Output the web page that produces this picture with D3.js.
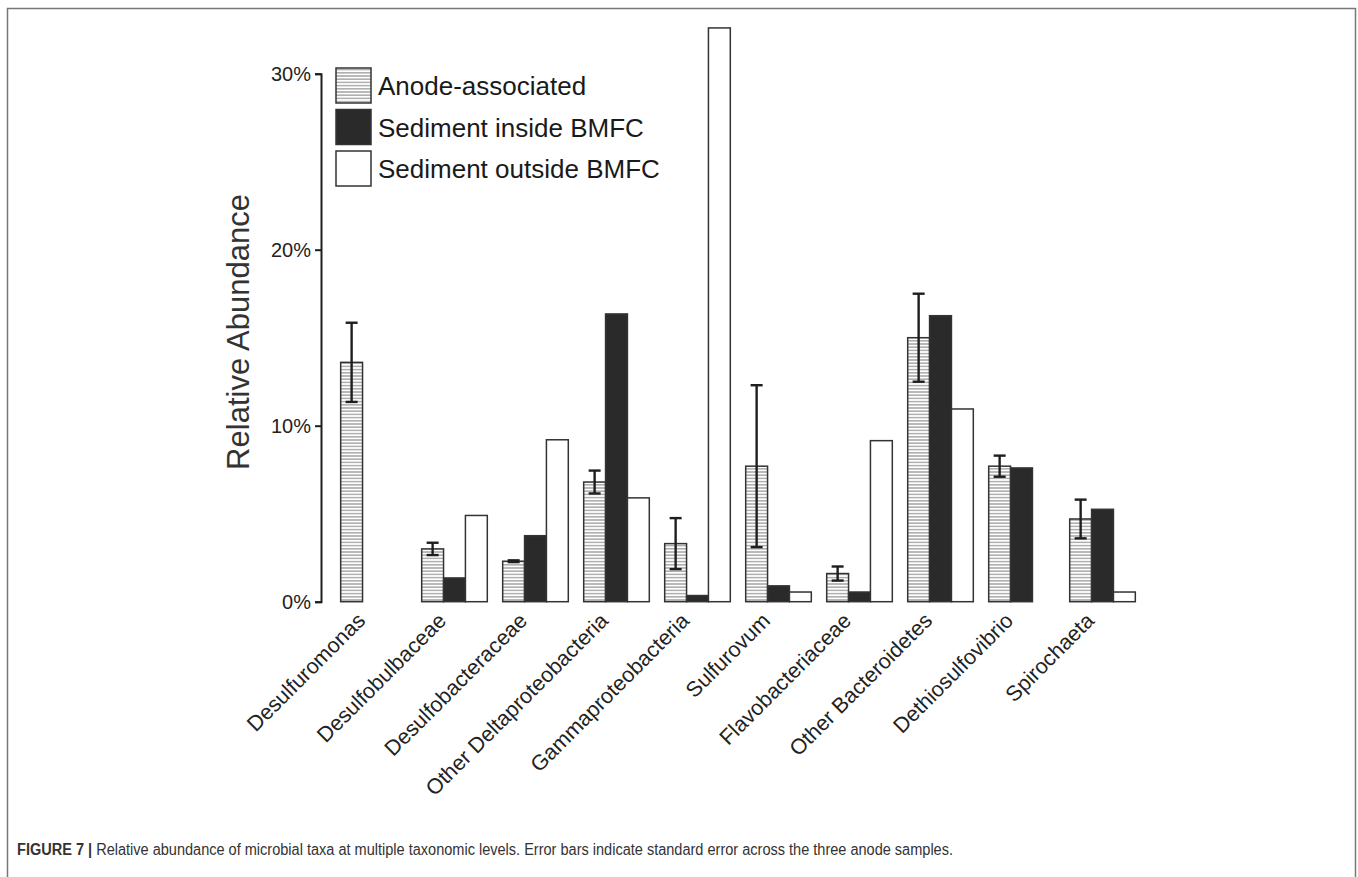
<!DOCTYPE html>
<html lang="en">
<head>
  <meta charset="UTF-8">
  <title>Relative abundance of microbial taxa</title>
  <script src="https://d3js.org/d3.v7.min.js"></script>
</head>
<body style="margin: 0; padding: 0; overflow: hidden; background: #fff;">
  <svg id="chart"></svg>

  <script>
    // data (percent)
    const categories = ["Desulfuromonas", "Desulfobulbaceae", "Desulfobacteraceae", "Other Deltaproteobacteria",
      "Gammaproteobacteria", "Sulfurovum", "Flavobacteriaceae", "Other Bacteroidetes", "Dethiosulfovibrio", "Spirochaeta"];
    const seriesNames = ["Anode-associated", "Sediment inside BMFC", "Sediment outside BMFC"];
    const anode = [13.6, 3.0, 2.3, 6.8, 3.3, 7.7, 1.6, 15.0, 7.7, 4.7];
    const anodeErr = [2.25, 0.35, 0.05, 0.65, 1.45, 4.6, 0.4, 2.5, 0.6, 1.1];
    const inside = [0, 1.35, 3.75, 16.35, 0.35, 0.9, 0.55, 16.25, 7.6, 5.25];
    const outside = [0, 4.9, 9.2, 5.9, 32.6, 0.55, 9.15, 10.95, 0, 0.55];
    const yTicks = [0, 10, 20, 30];

    const W = 1358, H = 877;
    const svg = d3.select("#chart").attr("width", W).attr("height", H);
    const font = "'Liberation Sans', Arial, Helvetica, sans-serif";

    // hatch pattern for anode bars
    const defs = svg.append("defs");
    const pat = defs.append("pattern")
      .attr("id", "hatch")
      .attr("patternUnits", "userSpaceOnUse")
      .attr("width", 6).attr("height", 3.2);
    pat.append("rect").attr("width", 6).attr("height", 3.2).attr("fill", "#fff");
    pat.append("line")
      .attr("x1", 0).attr("x2", 6).attr("y1", 1.6).attr("y2", 1.6)
      .attr("stroke", "#8a8a8a").attr("stroke-width", 1.1);

    const fills = ["url(#hatch)", "#2a2a2a", "#fff"];

    // frame around the figure
    svg.append("path")
      .attr("d", `M7.5,${H} V8.5 H1355.5 V${H}`)
      .attr("fill", "none").attr("stroke", "#777").attr("stroke-width", 1.5);

    const axisX = 321;
    const x0 = d3.scaleBand().domain(categories).range([axisX, 1155]).paddingInner(0.19).paddingOuter(0.243);
    const x1 = d3.scaleBand().domain(seriesNames).range([0, x0.bandwidth()]);
    const y = d3.scaleLinear().domain([0, 30]).range([601.7, 73.7]);

    const rows = categories.map((c, i) => ({
      cat: c,
      vals: [anode[i], inside[i], outside[i]],
      err: anodeErr[i]
    }));

    const g = svg.append("g");
    const groups = g.selectAll(".grp")
      .data(rows)
      .enter()
      .append("g")
      .attr("class", "grp")
      .attr("transform", d => `translate(${x0(d.cat)},0)`);

    groups.selectAll("rect")
      .data(d => d.vals.map((v, k) => ({ v, k })))
      .enter()
      .append("rect")
      .attr("x", d => x1(seriesNames[d.k]))
      .attr("width", x1.bandwidth())
      .attr("y", d => y(d.v))
      .attr("height", d => y(0) - y(d.v))
      .attr("fill", d => fills[d.k])
      .attr("stroke", "#333")
      .attr("stroke-width", 1.5);

    // error bars on anode bars
    const cap = 6;
    groups.each(function(d) {
      const cx = x1(seriesNames[0]) + x1.bandwidth() / 2;
      const top = y(d.vals[0] + d.err), bot = y(d.vals[0] - d.err);
      const e = d3.select(this).append("g")
        .attr("stroke", "#1e1e1e").attr("stroke-width", 2.4).attr("fill", "none");
      e.append("line").attr("x1", cx).attr("x2", cx).attr("y1", top).attr("y2", bot);
      e.append("line").attr("x1", cx - cap).attr("x2", cx + cap).attr("y1", top).attr("y2", top);
      e.append("line").attr("x1", cx - cap).attr("x2", cx + cap).attr("y1", bot).attr("y2", bot);
    });

    // y axis
    const yAxis = d3.axisLeft(y)
      .tickValues(yTicks)
      .tickSize(6)
      .tickPadding(4)
      .tickFormat(d => d + "%");
    const ya = svg.append("g")
      .attr("transform", `translate(${axisX},0)`)
      .call(yAxis);
    ya.select(".domain").attr("stroke", "#1e1e1e").attr("stroke-width", 2);
    ya.selectAll(".tick line").attr("stroke", "#1e1e1e").attr("stroke-width", 2);
    ya.selectAll(".tick text")
      .attr("font-family", font).attr("font-size", 20).attr("fill", "#222");

    svg.append("text")
      .attr("transform", "translate(249,332) rotate(-90)")
      .attr("text-anchor", "middle")
      .attr("font-family", font)
      .attr("font-size", 31)
      .attr("fill", "#333")
      .text("Relative Abundance");

    // x labels
    svg.selectAll(".xlab")
      .data(categories)
      .enter()
      .append("text")
      .attr("class", "xlab")
      .attr("transform", d => `translate(${x0(d) + x0.bandwidth() / 2 - 7},622) rotate(-45)`)
      .attr("text-anchor", "end")
      .attr("font-family", font)
      .attr("font-size", 21.5)
      .attr("fill", "#222")
      .text(d => d);

    // legend
    const leg = svg.append("g").attr("transform", "translate(336,68)");
    const li = leg.selectAll("g")
      .data(seriesNames)
      .enter()
      .append("g")
      .attr("transform", (d, i) => `translate(0,${i * 41.5})`);
    li.append("rect")
      .attr("width", 35).attr("height", 35)
      .attr("fill", (d, i) => fills[i])
      .attr("stroke", "#333").attr("stroke-width", 1.5);
    li.append("text")
      .attr("x", 42).attr("y", 27)
      .attr("font-family", font)
      .attr("font-size", 26)
      .attr("fill", "#1a1a1a")
      .text(d => d);

    // caption (condensed face in the original, squeezed to its width)
    const cap1 = svg.append("text")
      .attr("x", 17).attr("y", 855)
      .attr("font-family", font)
      .attr("font-size", 16)
      .attr("fill", "#333")
      .attr("textLength", 936)
      .attr("lengthAdjust", "spacingAndGlyphs");
    cap1.append("tspan").attr("font-weight", "bold").text("FIGURE 7 | ");
    cap1.append("tspan").text("Relative abundance of microbial taxa at multiple taxonomic levels. Error bars indicate standard error across the three anode samples.");
  </script>
</body>
</html>
